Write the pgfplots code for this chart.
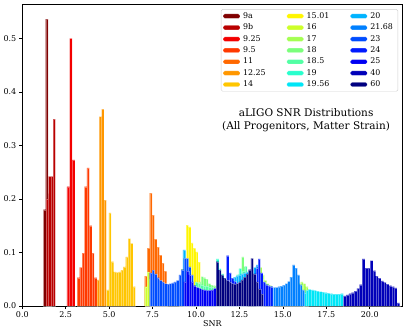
\documentclass[border=0pt]{standalone}
\usepackage{pgfplots}
\pgfplotsset{compat=1.18}
\usepackage{fontspec}
\setmainfont{DejaVu Serif}

% jet colours, one per progenitor
\definecolor{c9a}{HTML}{800000}
\definecolor{c9b}{HTML}{B90000}
\definecolor{c925}{HTML}{F30000}
\definecolor{c95}{HTML}{FF3900}
\definecolor{c11}{HTML}{FF6800}
\definecolor{c1225}{HTML}{FF9700}
\definecolor{c14}{HTML}{FFC600}
\definecolor{c1501}{HTML}{FFF600}
\definecolor{c16}{HTML}{CDFF29}
\definecolor{c17}{HTML}{A4FF52}
\definecolor{c18}{HTML}{7BFF7B}
\definecolor{c185}{HTML}{52FFA4}
\definecolor{c19}{HTML}{29FFCD}
\definecolor{c1956}{HTML}{00E6F7}
\definecolor{c20}{HTML}{00B3FF}
\definecolor{c2168}{HTML}{0080FF}
\definecolor{c23}{HTML}{004CFF}
\definecolor{c24}{HTML}{001AFF}
\definecolor{c25}{HTML}{0000F3}
\definecolor{c40}{HTML}{0000B9}
\definecolor{c60}{HTML}{000080}

\pgfplotsset{
  hist/.style={ybar interval, fill=#1, draw=white, draw opacity=0.35,
    line width=0.15pt, forget plot},
}

\begin{document}
\begin{tikzpicture}
\begin{axis}[
    name=ax,
    scale only axis,
    width=380.4pt, height=301.3pt,
    xmin=0, xmax=21.9, ymin=0, ymax=0.563,
    xtick={0,2.5,5,7.5,10,12.5,15,17.5,20},
    ytick={0,0.1,0.2,0.3,0.4,0.5},
    tick pos=left,
    tick align=outside,
    major tick length=3pt,
    every tick/.style={black, line width=0.5pt},
    axis line style={line width=0.6pt},
    /pgf/number format/.cd, fixed, fixed zerofill, precision=1, assume math mode=true,
    /pgfplots/.cd,
    tick label style={font=\fontsize{8}{9}\selectfont},
    label style={font=\fontsize{8}{9}\selectfont},
    xticklabel style={yshift=1pt},
    yticklabel style={xshift=0.5pt},
    xlabel={SNR},
    xlabel style={yshift=4pt},
    legend columns=3,
    legend cell align=left,
    legend image code/.code={\fill[#1, draw=white, draw opacity=0.4, line width=0.3pt]
      (0pt,-2.2pt) rectangle (16.7pt,2.2pt);},
    legend style={at={(rel axis cs:0.988,0.985)}, anchor=north east,
      draw=black!18, rounded corners=1.5pt,
      font=\fontsize{7.9}{9}\selectfont,
      inner xsep=2pt, inner ysep=1.5pt,
      nodes={inner ysep=1.6pt, inner xsep=3pt},
      row sep=0.8pt,
      /tikz/every even column/.append style={column sep=18pt}},
  ]

% 9a
\addplot[hist=c9a] coordinates {(1.21,0.180) (1.35,0.536) (1.49,0.210) (1.63,0)};
% 9b
\addplot[hist=c9b] coordinates {(1.37,0.200) (1.50,0.242) (1.64,0.242) (1.77,0.349) (1.91,0)};
% 9.25
\addplot[hist=c925] coordinates {(2.57,0.223) (2.72,0.500) (2.87,0.273) (3.02,0)};
% 9.5
\addplot[hist=c95] coordinates {(3.16,0.053) (3.30,0.072) (3.44,0.099) (3.58,0.223)
  (3.72,0.258) (3.86,0.150) (4.00,0.099) (4.14,0.053) (4.29,0)};
% 11
\addplot[hist=c11] coordinates {(7.04,0.056) (7.18,0.108) (7.33,0.211) (7.47,0.170)
  (7.61,0.125) (7.75,0.110) (7.89,0.095) (8.03,0.080) (8.17,0.065) (8.31,0)};
% 12.25
\addplot[hist=c1225] coordinates {(4.29,0.049) (4.43,0.354) (4.56,0.368) (4.70,0.198) (4.84,0)};
% 14
\addplot[hist=c14] coordinates {(4.84,0.030) (4.98,0.174) (5.12,0.083) (5.26,0.064)
  (5.40,0.063) (5.54,0.064) (5.67,0.067) (5.81,0.073) (5.95,0.092) (6.09,0.126)
  (6.23,0.117) (6.37,0.036) (6.51,0)};
% 15.01
\addplot[hist=c1501] coordinates {(9.01,0.045) (9.15,0.068) (9.29,0.090) (9.43,0.151)
  (9.56,0.148) (9.70,0.118) (9.84,0.108) (9.98,0.101) (10.11,0.082) (10.25,0)};
% 16
\addplot[hist=c16] coordinates {(7.04,0.036) (7.18,0.064) (7.32,0.050) (7.47,0.042)
  (7.61,0.038) (7.75,0.035) (7.89,0.033) (8.03,0.032) (8.18,0.032) (8.32,0.033)
  (8.46,0.034) (8.60,0.036) (8.74,0.040) (8.89,0.045) (9.03,0.055) (9.17,0.069) (9.31,0)};
% 17
\addplot[hist=c17] coordinates {(13.65,0.072) (13.79,0.058) (13.93,0.048) (14.07,0.042)
  (14.21,0.038) (14.35,0.035) (14.49,0.033) (14.63,0.032) (14.77,0.031) (14.91,0.031)
  (15.05,0.031) (15.19,0.032) (15.33,0.033) (15.47,0.034) (15.61,0.036) (15.75,0.038)
  (15.89,0.043) (16.03,0.045) (16.17,0.042) (16.31,0.036) (16.45,0)};
% 18
\addplot[hist=c18] coordinates {(10.15,0.045) (10.29,0.055) (10.42,0.053) (10.56,0.050)
  (10.70,0.042) (10.84,0.039) (10.97,0.038) (11.11,0.037) (11.25,0.036) (11.38,0.036)
  (11.52,0.036) (11.66,0.037) (11.79,0.038) (11.93,0.040) (12.07,0.043) (12.21,0.048)
  (12.34,0.058) (12.48,0.070) (12.62,0.092) (12.75,0.073) (12.89,0)};
% 18.5
\addplot[hist=c185] coordinates {(9.95,0.045) (10.10,0.042) (10.25,0.040) (10.40,0.038)
  (10.55,0.037) (10.70,0.036) (10.85,0.035) (11.00,0.034) (11.15,0.034) (11.30,0.034)
  (11.45,0.034) (11.60,0.035) (11.75,0.036) (11.90,0.037) (12.05,0.039) (12.20,0.042)
  (12.35,0.047) (12.50,0.055) (12.65,0.065) (12.80,0.074) (12.95,0)};
% 19
\addplot[hist=c19] coordinates {(11.16,0.088) (11.31,0.070) (11.45,0.060) (11.60,0.052)
  (11.74,0.048) (11.89,0.046) (12.04,0.047) (12.18,0.050) (12.33,0.058) (12.47,0.070) (12.62,0)};
% 19.56
\addplot[hist=c1956] coordinates {(16.15,0.025) (16.31,0.029) (16.46,0.031) (16.62,0.030)
  (16.77,0.029) (16.93,0.028) (17.08,0.027) (17.24,0.026) (17.39,0.025) (17.55,0.024)
  (17.70,0.023) (17.86,0.022) (18.01,0.022) (18.17,0.022) (18.32,0.023) (18.48,0)};
% 20
\addplot[hist=c20] coordinates {(9.25,0.105) (9.40,0.075) (9.54,0.055) (9.69,0.045)
  (9.83,0.038) (9.98,0.033) (10.12,0.030) (10.27,0.028) (10.41,0.027) (10.56,0.026)
  (10.70,0.026) (10.85,0.026) (10.99,0.027) (11.14,0.028) (11.28,0.030) (11.43,0.033)
  (11.57,0.037) (11.72,0.042) (11.86,0.048) (12.01,0.052) (12.15,0.054) (12.30,0.056)
  (12.44,0.058) (12.59,0.060) (12.73,0.062) (12.88,0.064) (13.02,0.066) (13.17,0.068)
  (13.31,0.072) (13.46,0.077) (13.60,0)};
% 21.68
\addplot[hist=c2168] coordinates {(13.45,0.075) (13.59,0.060) (13.73,0.050) (13.87,0.044)
  (14.01,0.040) (14.15,0.037) (14.29,0.036) (14.43,0.035) (14.57,0.035) (14.71,0.036)
  (14.85,0.037) (14.99,0.039) (15.13,0.042) (15.27,0.046) (15.41,0.054) (15.55,0.077)
  (15.69,0.071) (15.83,0.058) (15.97,0.040) (16.11,0.030) (16.25,0)};
% 23
\addplot[hist=c23] coordinates {(7.33,0.062) (7.47,0.067) (7.61,0.060) (7.75,0.053)
  (7.89,0.048) (8.03,0.045) (8.17,0.042) (8.31,0.041) (8.45,0.042) (8.59,0.043)
  (8.73,0.045) (8.87,0.048) (9.01,0.058) (9.15,0.068) (9.29,0.089) (9.43,0.089)
  (9.57,0.073) (9.71,0.058) (9.85,0)};
% 24
\addplot[hist=c24] coordinates {(11.75,0.094) (11.89,0.062) (12.03,0.052) (12.17,0.046)
  (12.31,0.043) (12.45,0.041) (12.59,0.041) (12.73,0.042) (12.87,0.044) (13.01,0.047)
  (13.15,0.052) (13.29,0.060) (13.43,0.070) (13.57,0.088) (13.71,0.062) (13.85,0.045)
  (13.99,0.040) (14.13,0.038) (14.27,0.036) (14.41,0)};
% 25
\addplot[hist=c25] coordinates {(9.29,0.045) (9.43,0.065) (9.58,0.058) (9.72,0.045)
  (9.86,0.038) (10.01,0.035) (10.15,0.033) (10.29,0.031) (10.43,0.030) (10.58,0.029)
  (10.72,0.029) (10.86,0.030) (11.01,0.033) (11.15,0)};
% 40
\addplot[hist=c40] coordinates {(18.49,0.019) (18.64,0.021) (18.80,0.023) (18.95,0.025)
  (19.11,0.028) (19.26,0.033) (19.41,0.040) (19.57,0.088) (19.72,0.071) (19.88,0.071)
  (20.03,0.085) (20.18,0.066) (20.34,0.056) (20.49,0.052) (20.65,0.047) (20.80,0.044)
  (20.95,0.041) (21.11,0.038) (21.26,0.036) (21.42,0.034) (21.57,0.006) (21.72,0)};
% 60
\addplot[hist=c60] coordinates {(11.16,0.083) (11.30,0.067) (11.45,0.058) (11.59,0.052)
  (11.73,0.048) (11.88,0.045) (12.02,0.042) (12.16,0.041) (12.30,0.042) (12.45,0.045)
  (12.59,0.049) (12.73,0.054) (12.88,0.060) (13.02,0.068) (13.16,0.089) (13.31,0.060)
  (13.45,0.045) (13.59,0.032) (13.73,0.022) (13.88,0)};

% legend, row by row so that the columns read 9a..14, 15.01..19.56, 20..60
\addlegendimage{fill=c9a}\addlegendentry{9a}
\addlegendimage{fill=c1501}\addlegendentry{15.01}
\addlegendimage{fill=c20}\addlegendentry{20}
\addlegendimage{fill=c9b}\addlegendentry{9b}
\addlegendimage{fill=c16}\addlegendentry{16}
\addlegendimage{fill=c2168}\addlegendentry{21.68}
\addlegendimage{fill=c925}\addlegendentry{9.25}
\addlegendimage{fill=c17}\addlegendentry{17}
\addlegendimage{fill=c23}\addlegendentry{23}
\addlegendimage{fill=c95}\addlegendentry{9.5}
\addlegendimage{fill=c18}\addlegendentry{18}
\addlegendimage{fill=c24}\addlegendentry{24}
\addlegendimage{fill=c11}\addlegendentry{11}
\addlegendimage{fill=c185}\addlegendentry{18.5}
\addlegendimage{fill=c25}\addlegendentry{25}
\addlegendimage{fill=c1225}\addlegendentry{12.25}
\addlegendimage{fill=c19}\addlegendentry{19}
\addlegendimage{fill=c40}\addlegendentry{40}
\addlegendimage{fill=c14}\addlegendentry{14}
\addlegendimage{fill=c1956}\addlegendentry{19.56}
\addlegendimage{fill=c60}\addlegendentry{60}

\node[align=center, font=\fontsize{10.5}{13.4}\selectfont] at (rel axis cs:0.746,0.617)
  {aLIGO SNR Distributions\\(All Progenitors, Matter Strain)};
\end{axis}
\pgfresetboundingbox
\path ([shift={(-22.3pt,-29pt)}]ax.south west) rectangle ([shift={(4.3pt,4.7pt)}]ax.north east);
\end{tikzpicture}
\end{document}
